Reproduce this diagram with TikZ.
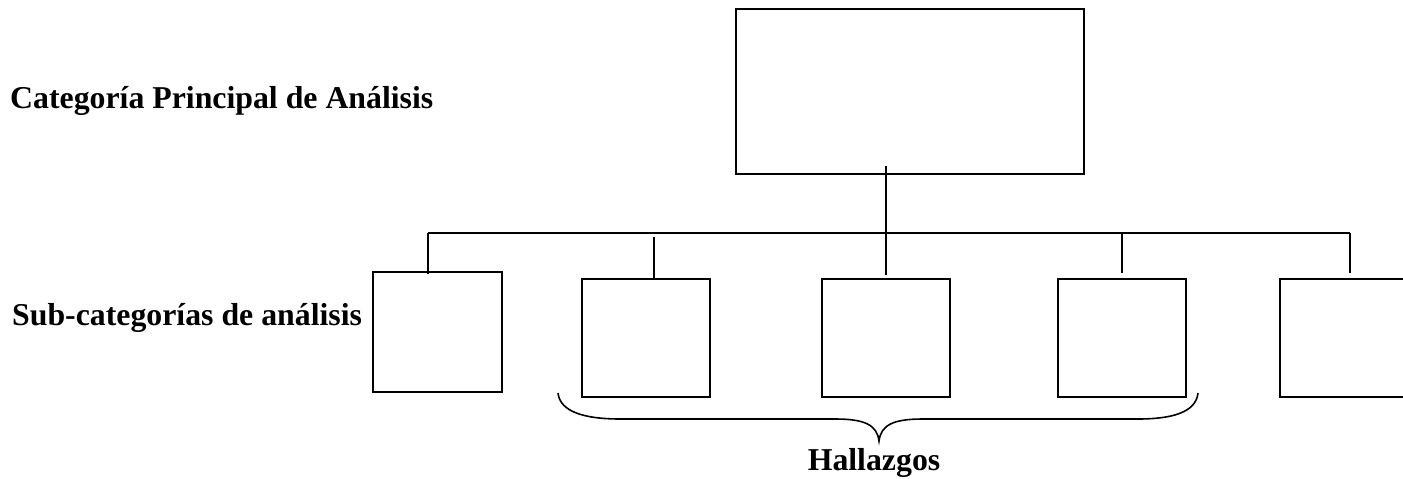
\documentclass[tikz,border=0pt]{standalone}
\usepackage{fontspec}
\setmainfont{Liberation Serif}
\begin{document}
\begin{tikzpicture}[x=1pt,y=-1pt,
  box/.style={draw,line width=2pt,inner sep=0pt,outer sep=0pt},
  subbox/.style={box,minimum width=128pt,minimum height=118pt},
  wire/.style={line width=2pt},
  lbl/.style={inner sep=0pt,font=\fontsize{31.8}{38}\selectfont\bfseries}]
\useasboundingbox (0,0) rectangle (1403,479);
\clip (0,0) rectangle (1403,479);

% main category box
\node[box,minimum width=348pt,minimum height=165pt] (top) at (910,91.5) {};

% sub-category boxes
\node[box,minimum width=129pt,minimum height=120pt] (s1) at (437.5,332) {};
\node[subbox] (s2) at (646,338) {};
\node[subbox] (s3) at (886,338) {};
\node[subbox] (s4) at (1121.5,338) {};
\node[subbox] (s5) at (1344,338) {};

% horizontal bus
\coordinate (busL) at (428,233);
\coordinate (busR) at (1350,233);
\draw[wire] (busL) -- (busR);

% drops from the bus
\draw[wire] (busL) -- ([xshift=-9.5pt,yshift=-2pt]s1.north);
\draw[wire] ([xshift=8pt,yshift=42pt]s2.north) -- ([xshift=8pt]s2.north);
\draw[wire] ([xshift=-24pt,yshift=8pt]top.south) -- ([yshift=4pt]s3.north);
\draw[wire] ([xshift=0.5pt,yshift=46pt]s4.north) -- ([xshift=0.5pt,yshift=6pt]s4.north);
\draw[wire] (busR) -- ([xshift=6pt,yshift=6pt]s5.north);

% brace under the three middle boxes
\coordinate (bl) at (558,393);
\coordinate (br) at (1198,393);
\coordinate (tip) at (879,441);
\draw[wire,line width=1.6pt] (bl) .. controls (560,412) and (585,419) .. (620,419)
  -- (835,419) .. controls (865,419) and (877,425) .. (tip)
  .. controls (881,425) and (893,419) .. (923,419)
  -- (1138,419) .. controls (1173,419) and (1196,412) .. (br);

% labels
\node[lbl,anchor=base west] (lcat) at (10,108) {Categoría Principal de Análisis};
\node[lbl,anchor=base west] (lsub) at (12,325) {Sub-categorías de análisis};
\node[lbl,anchor=base] (lhall) at (874,470) {Hallazgos};
\end{tikzpicture}
\end{document}
